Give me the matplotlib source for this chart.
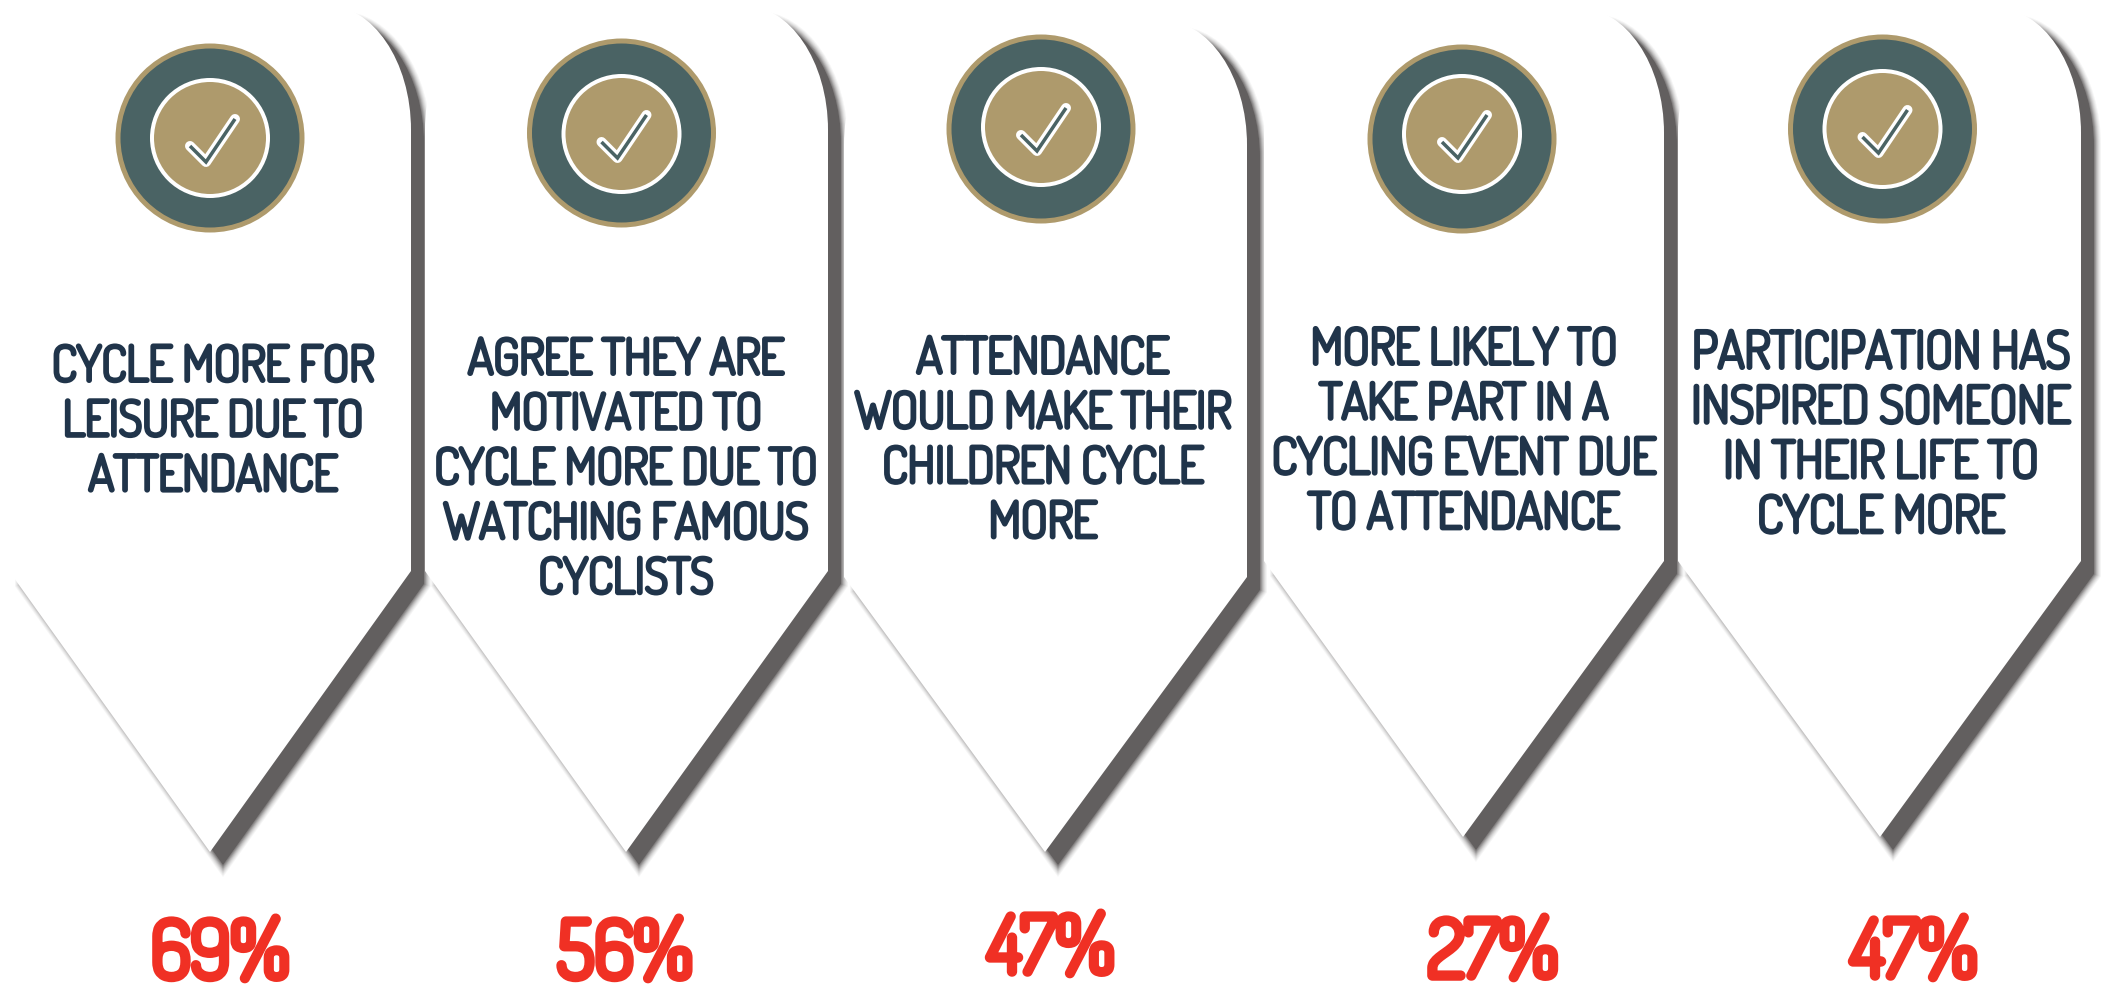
import matplotlib
matplotlib.use("Agg")
import matplotlib.pyplot as plt
import matplotlib.patheffects as pe
from matplotlib.patches import Circle, PathPatch
from matplotlib.path import Path

# data
values = [69, 56, 47, 27, 47]
labels = [
    ["CYCLE MORE FOR", "LEISURE DUE TO", "ATTENDANCE"],
    ["AGREE THEY ARE", "MOTIVATED TO", "CYCLE MORE DUE TO", "WATCHING FAMOUS", "CYCLISTS"],
    ["ATTENDANCE", "WOULD MAKE THEIR", "CHILDREN CYCLE", "MORE"],
    ["MORE LIKELY TO", "TAKE PART IN A", "CYCLING EVENT DUE", "TO ATTENDANCE"],
    ["PARTICIPATION HAS", "INSPIRED SOMEONE", "IN THEIR LIFE TO", "CYCLE MORE"],
]

# layout, in pixels of the picture
pin_left = [9, 425, 844, 1264, 1678]
pin_right = [411, 828, 1247, 1664, 2081]
pin_top = [5, 5, 20, 8, 8]
pin_shoulder = [571, 571, 577, 561, 561]
pin_tip = [(210, 852), (626, 852), (1045, 852), (1463, 837), (1880, 837)]
icon_x = [210, 621.5, 1041, 1462, 1882.5]
icon_y = [138, 133, 129, 139, 129]
inner_y = [138, 134, 127, 134, 129]
label_x = [213, 626, 1043, 1464, 1881]
label_y = [381, 374, 373, 364, 368]
label_size = [35, 35, 35.5, 35.5, 36.5]
pct_x = [220, 625, 1051, 1493, 1914]
pct_y = [978, 978, 973, 977, 977]

TEAL = "#4a6364"
TAN = "#ae9a6c"
NAVY = "#20344a"
RED = "#f03024"
SHADOW = "#625f5f"
FONT = ["Dosis", "Barlow Condensed", "Roboto", "DejaVu Sans"]
PX = 0.72  # one pixel in points at dpi 100
blur = [(14, 0.06), (12, 0.08), (10, 0.1), (8, 0.14), (6, 0.2), (4, 0.3), (2, 0.4)]


def pin_path(left, right, top, shoulder, tip, dx=0, dy=0):
    rx, ry = 85, 125
    verts = [
        (left, shoulder), (left, top + ry),
        (left, top + ry * 0.45), (left + rx * 0.45, top), (left + rx, top),
        (right - rx, top),
        (right - rx * 0.45, top), (right, top + ry * 0.45), (right, top + ry),
        (right, shoulder), tip, (left, shoulder),
    ]
    codes = [Path.MOVETO, Path.LINETO, Path.CURVE4, Path.CURVE4, Path.CURVE4, Path.LINETO,
             Path.CURVE4, Path.CURVE4, Path.CURVE4, Path.LINETO, Path.LINETO, Path.CLOSEPOLY]
    return Path([(x + dx, y + dy) for x, y in verts], codes)


fig = plt.figure(figsize=(21.03, 9.86), dpi=100)
ax = fig.add_axes([0, 0, 1, 1])
ax.set_xlim(0, 2103)
ax.set_ylim(986, 0)
ax.axis("off")

for i in range(5):
    z = 2 + i
    shadow = pin_path(pin_left[i], pin_right[i], pin_top[i], pin_shoulder[i], pin_tip[i], 13, 13)
    for w, a in blur:
        ax.add_patch(PathPatch(shadow, fc="none", ec=SHADOW, lw=w * PX, alpha=a, zorder=z))
    ax.add_patch(PathPatch(shadow, fc=SHADOW, ec="none", zorder=z))
    ax.add_patch(PathPatch(pin_path(pin_left[i], pin_right[i], pin_top[i], pin_shoulder[i], pin_tip[i]),
                           fc="white", ec="none", zorder=z))

    cx = icon_x[i]
    cy = inner_y[i]
    ax.add_patch(Circle((cx, icon_y[i]), 92, fc=TEAL, ec=TAN, lw=5 * PX, zorder=10))
    ax.add_patch(Circle((cx, cy), 58, fc=TAN, ec="white", lw=4 * PX, zorder=11))
    tick_x = [cx - 20, cx - 4, cx + 25]
    tick_y = [cy + 8, cy + 24, cy - 19]
    ax.plot(tick_x, tick_y, color="white", lw=10 * PX, solid_joinstyle="round", solid_capstyle="round", zorder=12)
    ax.plot(tick_x, tick_y, color=TEAL, lw=3.5 * PX, solid_joinstyle="miter", solid_capstyle="butt", zorder=13)

    # the Dosis file only comes in its light weight, so thicken it with a stroke
    for j, line in enumerate(labels[i]):
        ax.text(label_x[i], label_y[i] + j * 54.8, line, ha="center", va="baseline",
                fontsize=label_size[i], family=FONT, color=NAVY, zorder=14,
                path_effects=[pe.withStroke(linewidth=4 * PX, foreground=NAVY)])
    ax.text(pct_x[i], pct_y[i], f"{values[i]}%", ha="center", va="baseline",
            fontsize=57, family=FONT, color=RED, zorder=14,
            path_effects=[pe.withStroke(linewidth=7.5 * PX, foreground=RED)])

fig.savefig("out.png", dpi=100, facecolor="white")
